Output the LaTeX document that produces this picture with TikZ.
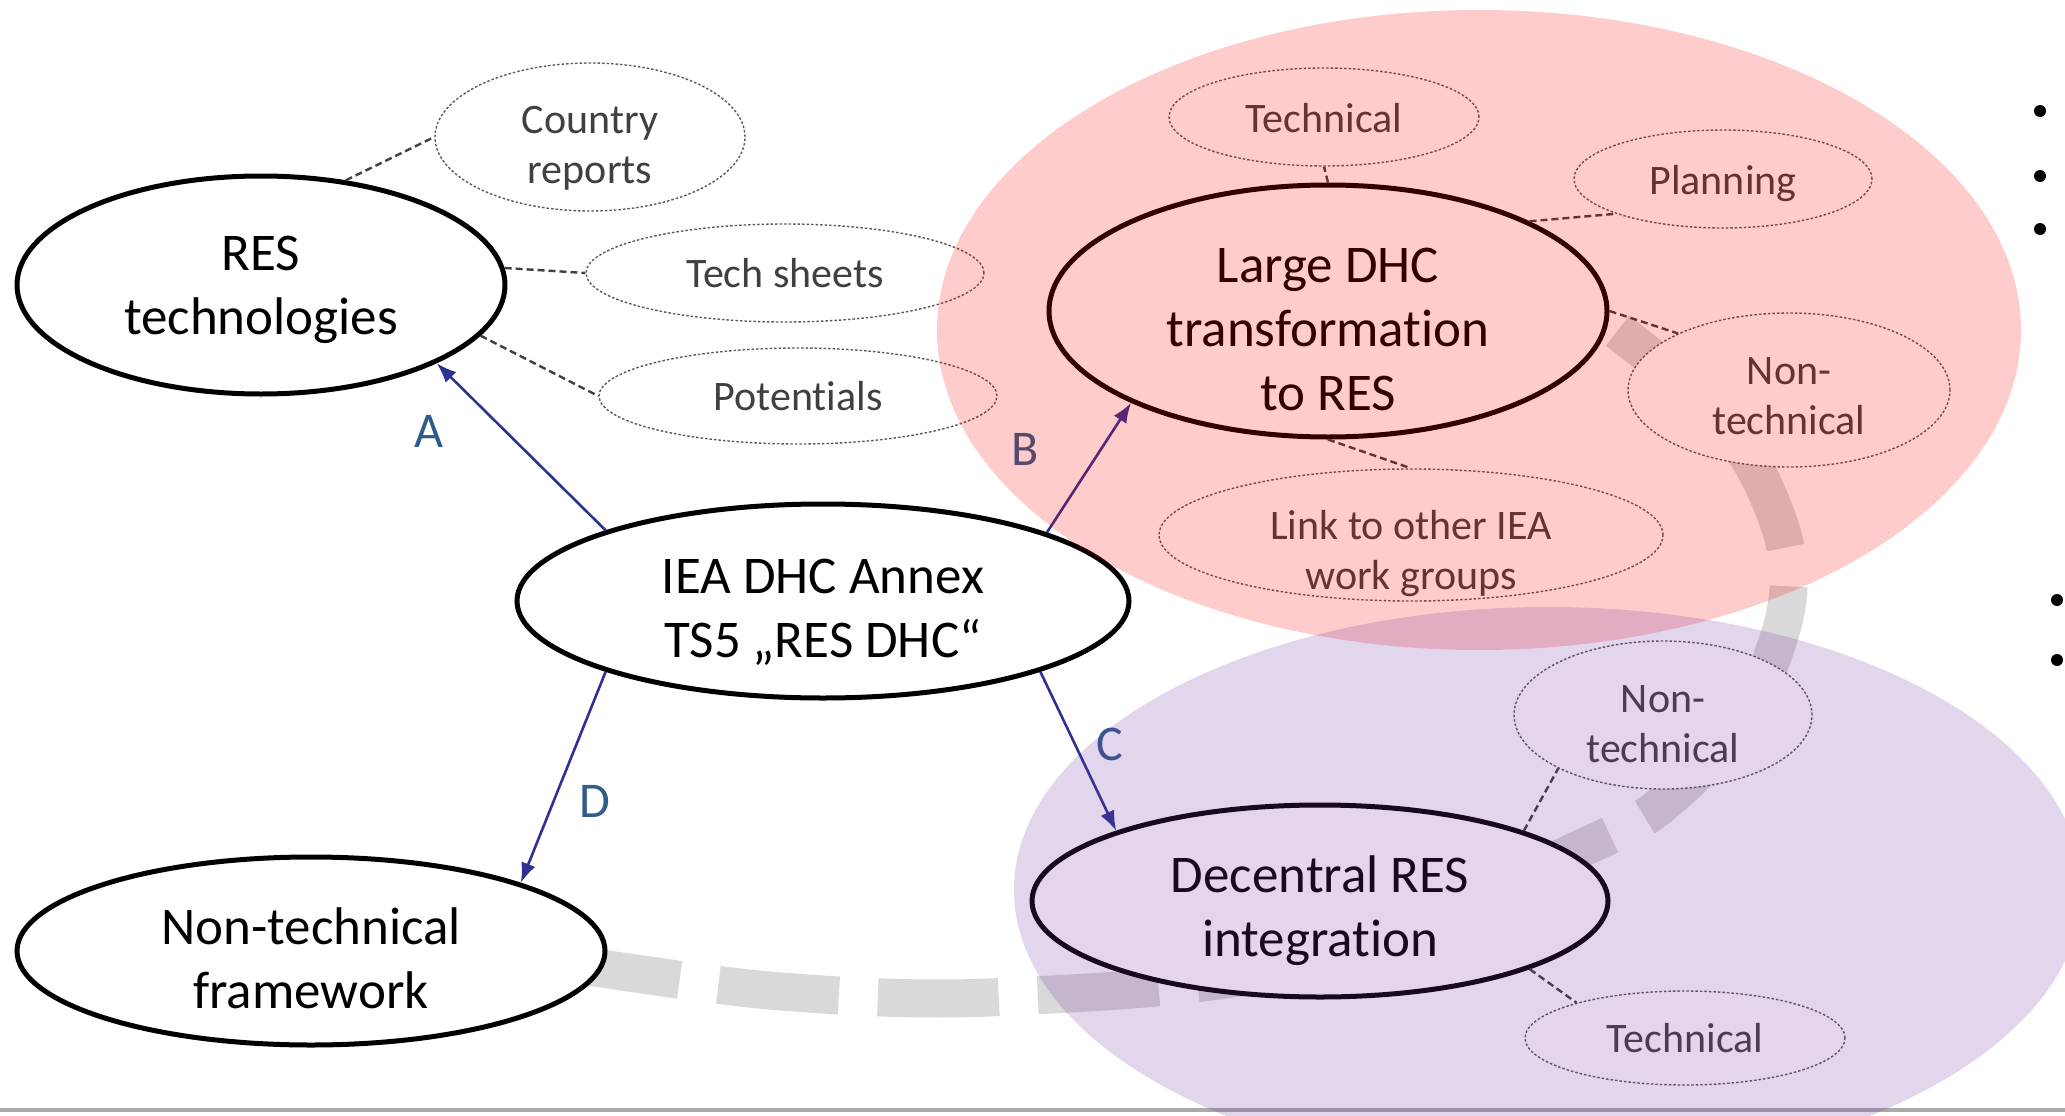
\documentclass[tikz,border=0pt]{standalone}
\usepackage{fontspec}
\setmainfont[Ligatures=NoCommon]{Carlito}
\usetikzlibrary{shapes.geometric, arrows.meta, backgrounds}
\definecolor{navyarr}{RGB}{46,49,146}
\definecolor{lblblue}{RGB}{47,92,138}
\definecolor{txtgrey}{RGB}{64,64,64}
\definecolor{dotgrey}{RGB}{90,90,90}
\definecolor{curvegrey}{RGB}{217,217,217}
\definecolor{linegrey}{RGB}{170,170,170}
\definecolor{pinkov}{RGB}{255,0,0}
\definecolor{purpov}{RGB}{112,48,160}
\begin{document}
\begin{tikzpicture}[x=1pt,y=-1pt,
 mainell/.style={ellipse, draw=black, line width=5pt, fill=white, inner sep=0pt},
 subell/.style={ellipse, draw=dotgrey, line width=1.4pt, dash pattern=on 2.5pt off 2pt, fill=white, inner sep=0pt},
 mtext/.style={align=center, font=\fontsize{53}{64}\selectfont, text=black, inner sep=0pt},
 stext/.style={align=center, font=\fontsize{42}{50}\selectfont, text=txtgrey, inner sep=0pt},
 conn/.style={draw=txtgrey, line width=2.4pt, dash pattern=on 7pt off 4pt},
 arr/.style={draw=navyarr, line width=2.6pt, -{Latex[length=20pt,width=15pt]}},
 lbl/.style={text=lblblue, font=\fontsize{50}{60}\selectfont, inner sep=0pt},
 bullet/.style={fill=black},
 greycurve/.style={draw=curvegrey, line width=38pt, dash pattern=on 121pt off 39pt},
 ]
\useasboundingbox (0,0) rectangle (2065,1116);
\clip (0,0) rectangle (2065,1116);

% main ellipses
\node[mainell, minimum width=488pt, minimum height=218pt,
  label={[mtext, name=res-t, yshift=-5pt]center:{RES\\technologies}}] (res) at (261,285) {};
\node[mainell, minimum width=612pt, minimum height=194pt,
  label={[mtext, name=iea-t, yshift=-11pt]center:{IEA DHC Annex\\TS5 „RES DHC“}}] (iea) at (823,601) {};
\node[mainell, minimum width=588pt, minimum height=188pt,
  label={[mtext, name=ntf-t, yshift=-7pt]center:{Non-technical\\framework}}] (ntf) at (311,951) {};
\node[mainell, minimum width=558pt, minimum height=252pt,
  label={[mtext, name=large-t, yshift=-18pt]center:{Large DHC\\transformation\\to RES}}] (large) at (1328,311) {};
\node[mainell, minimum width=576pt, minimum height=192pt,
  label={[mtext, name=dec-t, yshift=-10pt]center:{Decentral RES\\integration}}] (dec) at (1320,901) {};

% sub ellipses
\node[subell, minimum width=310pt, minimum height=148pt,
  label={[stext, name=country-t, yshift=-11pt]center:{Country\\reports}}] (country) at (590,137) {};
\node[subell, minimum width=398pt, minimum height=98pt,
  label={[stext, name=techs-t]center:{Tech sheets}}] (techs) at (785,273) {};
\node[subell, minimum width=398pt, minimum height=96pt,
  label={[stext, name=pots-t]center:{Potentials}}] (pots) at (798,396) {};
\node[subell, minimum width=310pt, minimum height=98pt,
  label={[stext, name=tech1-t, yshift=-1pt]center:{Technical}}] (tech1) at (1324,117) {};
\node[subell, minimum width=298pt, minimum height=98pt,
  label={[stext, name=plan-t, yshift=-5pt]center:{Planning}}] (plan) at (1723,179) {};
\node[subell, minimum width=322pt, minimum height=154pt,
  label={[stext, name=nt1-t, yshift=-6pt]center:{Non-\\technical}}] (nt1) at (1789,390) {};
\node[subell, minimum width=504pt, minimum height=132pt,
  label={[stext, name=link-t, yshift=-19pt]center:{Link to other IEA\\work groups}}] (link) at (1411,535) {};
\node[subell, minimum width=298pt, minimum height=148pt,
  label={[stext, name=nt2-t, yshift=-9pt]center:{Non-\\technical}}] (nt2) at (1663,715) {};
\node[subell, minimum width=320pt, minimum height=94pt,
  label={[stext, name=tech2-t]center:{Technical}}] (tech2) at (1685,1038) {};

% grey dashed curve behind the ellipses
\begin{scope}[on background layer]
\draw[greycurve] plot[smooth, tension=0.55] coordinates {(560,962) (775,991) (1000,997) (1300,965) (1593,843) (1673,795) (1745,715) (1784,619) (1785,545) (1750,460) (1690,390) (1610,325)};
\end{scope}

% dashed connectors
\draw[conn] (res.51) -- (country.180);
\draw[conn] (res.4) -- (techs.180);
\draw[conn] (res.-13) -- (pots.180);
\draw[conn] (large.90) -- (tech1.-90);
\draw[conn] (large.24) -- (plan.198);
\draw[conn] (large.0) -- (nt1.153);
\draw[conn] (large.-90) -- (link.90);
\draw[conn] (dec.19) -- (nt2.207);
\draw[conn] (dec.-18) -- (tech2.162);

% arrows
\draw[arr] (iea.162.6) -- (res.-24.7);
\draw[arr] (iea.17.4) -- (large.205);
\draw[arr] (iea.-18) -- (dec.161);
\draw[arr] (iea.198) -- (ntf.18.8);

% arrow labels
\node[lbl] (la) at (429,431) {A};
\node[lbl] (lb) at (1025,449) {B};
\node[lbl] (lc) at (1110,744) {C};
\node[lbl] (ld) at (595,801) {D};

% bullets at right edge
\fill[bullet] (2040,111) circle (6pt);
\fill[bullet] (2040,176) circle (6pt);
\fill[bullet] (2040,229) circle (6pt);
\fill[bullet] (2057,600) circle (6pt);
\fill[bullet] (2057,660) circle (6pt);

% bottom rule
\draw[linegrey, line width=3.5pt] (0,1110) -- (2065,1110);

% translucent overlays
\fill[pinkov, opacity=0.2] (1479,330) ellipse [x radius=542pt, y radius=320pt];
\fill[purpov, opacity=0.2] (1548,890) ellipse [x radius=534pt, y radius=283pt];
\end{tikzpicture}
\end{document}
